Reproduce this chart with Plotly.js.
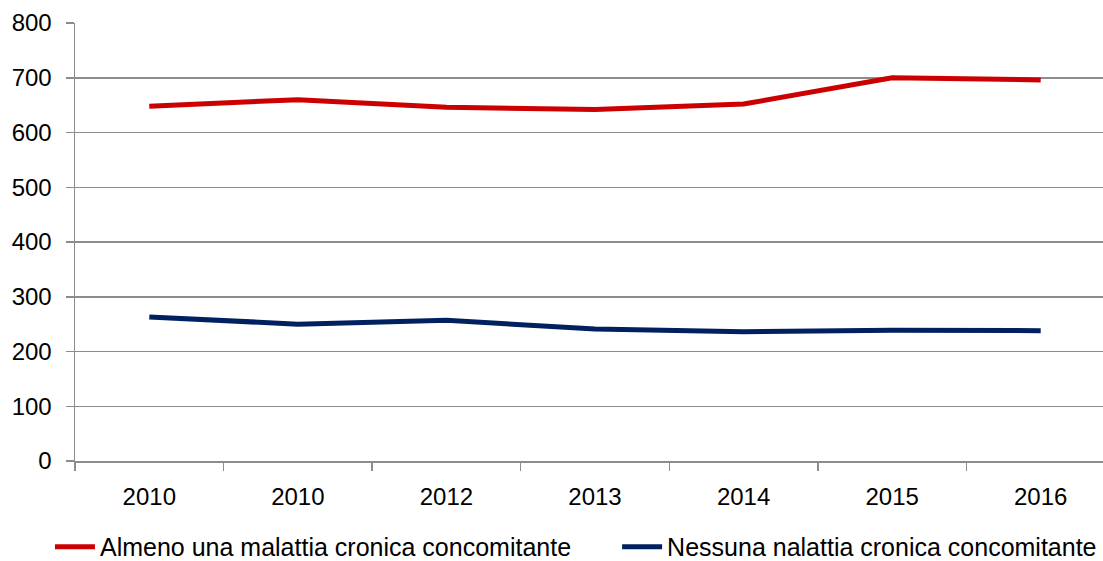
<!DOCTYPE html>
<html>
<head>
<meta charset="utf-8">
<script src="https://cdn.plot.ly/plotly-3.0.1.min.js"></script>
<style>
html,body{margin:0;padding:0;overflow:hidden;background:#fff;}
#chart{width:1120px;height:561px;}
</style>
</head>
<body>
<div id="chart"></div>
<script>
const categories = ["2010", "2010", "2012", "2013", "2014", "2015", "2016"];
const almenoUna = [648, 660, 646, 642, 652, 700, 696];
const nessuna = [263, 250, 257, 241, 236, 239, 238];
const seriesNames = ["Almeno una malattia cronica concomitante", "Nessuna nalattia cronica concomitante"];
const yTicks = [0, 100, 200, 300, 400, 500, 600, 700, 800];

const idx = categories.map((c, i) => i);
const FONT = "Liberation Sans, Arial, sans-serif";

const traces = [
  {x: idx, y: almenoUna, name: seriesNames[0], type: "scatter", mode: "lines",
   line: {color: "#CC0000", width: 5}, legend: "legend"},
  {x: idx, y: nessuna, name: seriesNames[1], type: "scatter", mode: "lines",
   line: {color: "#002060", width: 5}, legend: "legend2"}
];

const legendBase = {orientation: "h", xref: "container", yref: "container", xanchor: "left",
  y: 0.025, yanchor: "middle", font: {family: FONT, size: 25, color: "#000"},
  itemwidth: 40, bgcolor: "rgba(0,0,0,0)"};

const layout = {
  width: 1120, height: 561,
  margin: {l: 75, r: 5, t: 23, b: 100},
  paper_bgcolor: "#fff", plot_bgcolor: "#fff",
  font: {family: FONT, size: 24, color: "#000"},
  showlegend: true,
  legend: Object.assign({}, legendBase, {x: 0.0446}),
  legend2: Object.assign({}, legendBase, {x: 0.551}),
  xaxis: {type: "category", tickmode: "array", tickvals: idx, ticktext: categories,
          tickson: "boundaries", ticks: "outside", ticklen: 8, tickwidth: 1.5, tickcolor: "#8c8c8c",
          showline: true, linecolor: "#8c8c8c", linewidth: 1.5, showgrid: false, zeroline: false,
          range: [-0.5, 6.5], fixedrange: true, ticklabelstandoff: 14, automargin: false},
  yaxis: {range: [0, 800], tickmode: "array", tickvals: yTicks, ticks: "outside", ticklen: 8,
          tickwidth: 1.5, tickcolor: "#8c8c8c", showline: true, linecolor: "#8c8c8c", linewidth: 1.5,
          showgrid: true, gridcolor: "#8c8c8c", gridwidth: 1.5, zeroline: false, ticklabelstandoff: 9,
          automargin: false}
};

Plotly.newPlot("chart", traces, layout, {displayModeBar: false, staticPlot: true});
</script>
</body>
</html>
